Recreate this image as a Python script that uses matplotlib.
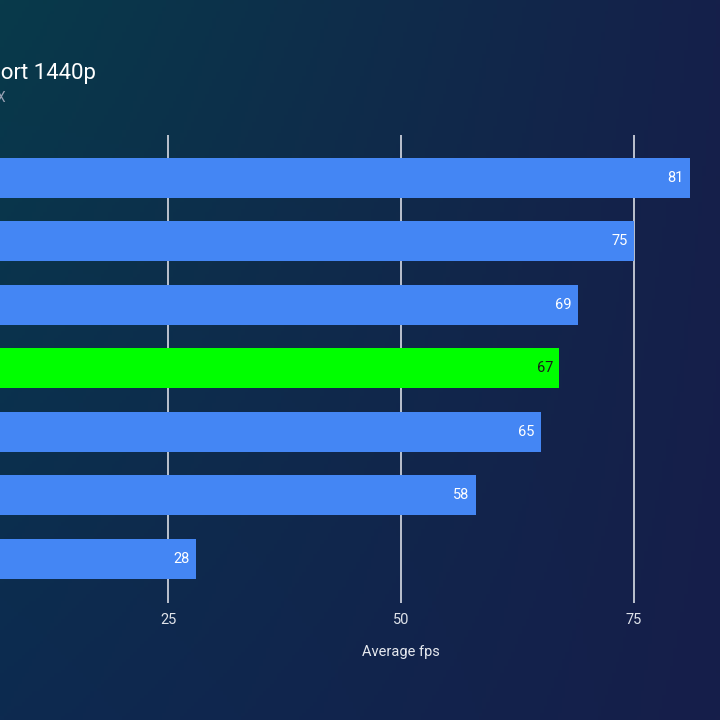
import numpy as np
import matplotlib
matplotlib.use("Agg")
import matplotlib.pyplot as plt

# данные
values = [81, 75, 69, 67, 65, 58, 28]
highlight = 3           # зелёная полоса
ticks = [25, 50, 75]
title = "Forza Motorsport 1440p"
subtitle = "Ultra settings, DirectX"
xlabel = "Average fps"

plt.rcParams['font.family'] = ['Roboto', 'DejaVu Sans']

fig = plt.figure(figsize=(7.2, 7.2), dpi=100)

# фон - градиент
bg = fig.add_axes([0, 0, 1, 1])
tl = np.array([8, 58, 74]) / 255.
tr = np.array([21, 32, 74]) / 255.
bl = np.array([13, 42, 80]) / 255.
br = np.array([22, 30, 74]) / 255.
u = np.linspace(0, 1, 200)[None, :, None]
v = np.linspace(0, 1, 200)[:, None, None]
img = (1 - v) * ((1 - u) * tl + u * tr) + v * ((1 - u) * bl + u * br)
bg.imshow(img, aspect='auto', extent=[0, 1, 0, 1])
bg.axis('off')

# ось уходит за левый край картинки
ax = fig.add_axes([-65 / 720., 1 - 603 / 720., 932 / 720., 468 / 720.])
ax.set_facecolor('none')
y = np.arange(len(values))
colors = ['#00ff00' if i == highlight else '#4486f4' for i in range(len(values))]
ax.barh(y, values, height=0.63, color=colors, zorder=3)
for i, val in enumerate(values):
    ax.text(val - 0.7, i, str(val), ha='right', va='center', fontsize=10.5,
            color='#1a1a1a' if i == highlight else 'white', zorder=4)

ax.set_xlim(0, 100)
ax.set_ylim(len(values) - 1 + 0.693, -0.677)
ax.set_xticks(ticks)
ax.set_yticks([])
ax.grid(axis='x', color='#c9ced8', linewidth=1.3, zorder=1)
ax.tick_params(axis='x', length=0, pad=7, colors='#dfe3ea', labelsize=10.5)
for s in ax.spines.values():
    s.set_visible(False)
ax.set_xlabel(xlabel, color='#e6e9ef', fontsize=10.5, labelpad=13)

fig.text(96 / 720., 1 - 73 / 720., title, ha='right', va='center',
         fontsize=16, color='white')
fig.text(6 / 720., 1 - 98 / 720., subtitle, ha='right', va='center',
         fontsize=10, color='#9aa3b5')

fig.savefig('out.png', dpi=100)
